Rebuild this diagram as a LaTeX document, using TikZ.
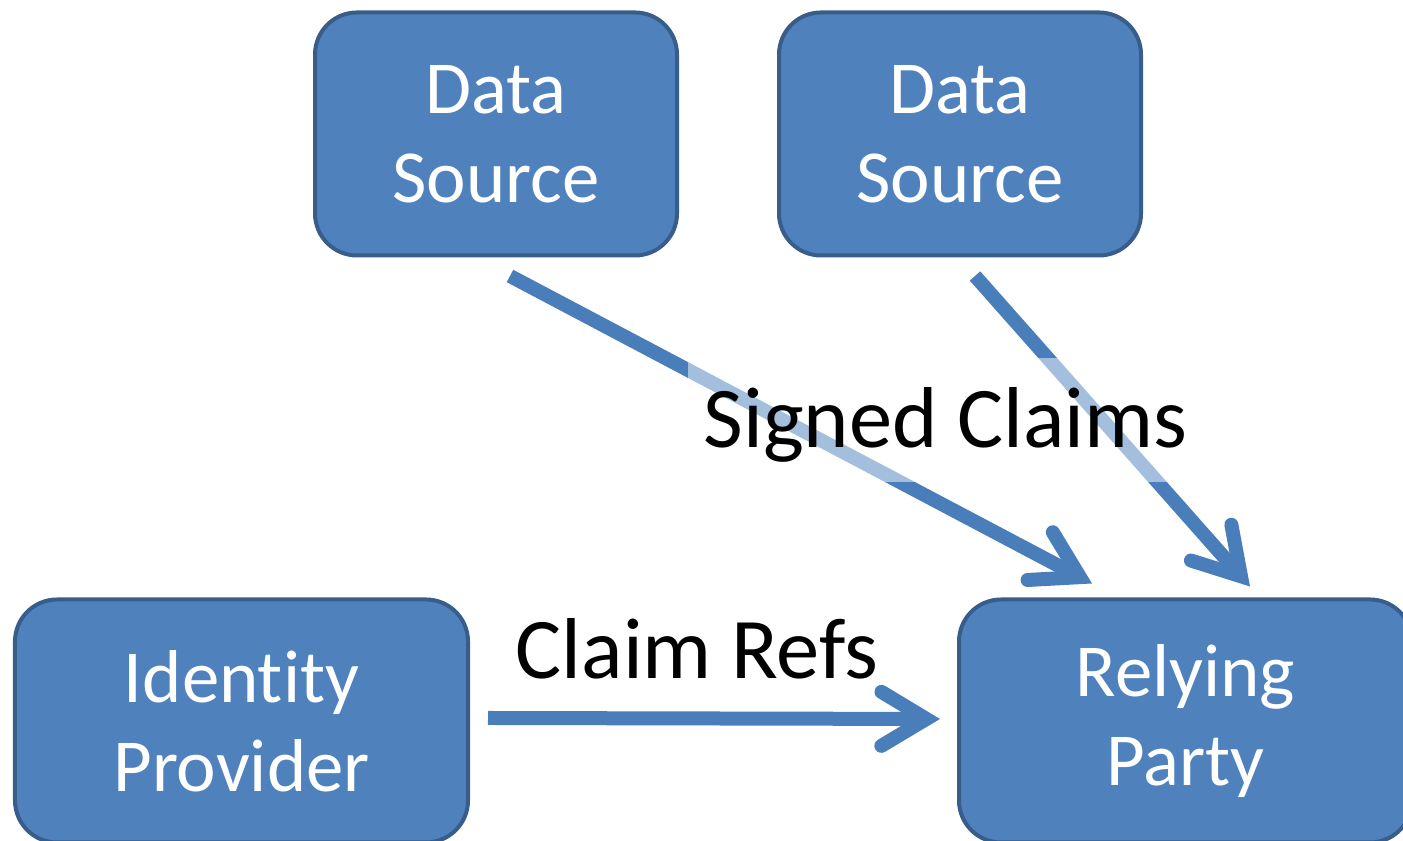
\documentclass[tikz,border=0pt]{standalone}
\usepackage{fontspec}
\setmainfont{Carlito}[Ligatures=NoCommon]
\usetikzlibrary{arrows.meta}
\definecolor{boxfill}{HTML}{4F81BD}
\definecolor{boxline}{HTML}{385D8A}
\definecolor{flowline}{HTML}{4A7EBB}
\begin{document}
\begin{tikzpicture}[
  box/.style={draw=boxline, line width=0.04cm, fill=boxfill, rounded corners=0.42cm, text=white, align=center, font=\fontsize{21.3pt}{25.3pt}\selectfont, minimum height=2.43cm, inner sep=0pt},
  flow/.style={draw=flowline, line width=0.14cm, -{Straight Barb[length=0.45cm, width=0.54cm, line cap=round, line join=miter]}},
  lbl/.style={font=\fontsize{24.6pt}{30pt}\selectfont, inner sep=0pt, anchor=base}]
  \useasboundingbox (0,0) rectangle (14.03,8.41);
  \node[box, minimum width=3.62cm] (ds1) at (4.96,7.07) {Data\\Source};
  \node[box, minimum width=3.62cm] (ds2) at (9.60,7.07) {Data\\Source};
  \node[box, minimum width=4.53cm] (idp) at (2.415,1.20) {Identity\\Provider};
  \node[box, minimum width=4.53cm] (rp) at (11.855,1.20) {Relying\\Party};
  \draw[flow] ([shift={(0.14,-0.185)}]ds1.south) -- ([shift={(-0.935,0.14)}]rp.north);
  \draw[flow] ([shift={(0.15,-0.185)}]ds2.south) -- ([shift={(0.645,0.11)}]rp.north);
  \draw[flow] ([shift={(0.18,0.03)}]idp.east) -- ([shift={(-0.17,0.02)}]rp.west);
  \node[lbl, fill=white, fill opacity=0.5, text opacity=1, text height=0.9cm, text depth=0.34cm, minimum width=5.15cm] (sc) at (9.455,3.93) {Signed Claims};
  \node[lbl] (cr) at (6.97,1.62) {Claim Refs};
\end{tikzpicture}
\end{document}
